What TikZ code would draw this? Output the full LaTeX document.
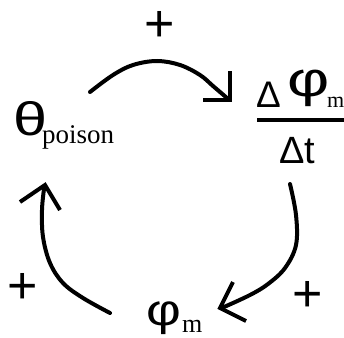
\documentclass[tikz,border=0pt]{standalone}
\usepackage{graphicx}
\usepackage{fontspec}
\setmainfont{Liberation Sans}
\newfontfamily\subfont{Liberation Serif}
\begin{document}
\begin{tikzpicture}[x=1pt,y=-1pt,
  lbl/.style={inner sep=0pt,outer sep=0pt,anchor=base west},
  sgn/.style={inner sep=0pt,outer sep=0pt,anchor=center,font=\fontsize{52}{52}\selectfont},
  arc/.style={line width=4pt,line cap=round,line join=miter},
  head/.style={line width=4pt,line cap=butt,line join=miter}]
\useasboundingbox (0,0) rectangle (344,337);
% texts
\node[lbl,font=\fontsize{47}{47}\selectfont] (theta) at (13,135) {\scalebox{1.3}[1]{θ}};
\node[lbl,font=\subfont\fontsize{27}{27}\selectfont] (poison) at (42,143) {poison};
\node[lbl,font=\fontsize{37}{37}\selectfont] (numD) at (256,107) {\scalebox{1}[1]{Δ}};
\node[lbl,font=\fontsize{49}{49}\selectfont] (numphi) at (287,96) {\scalebox{1.33}[1]{φ}};
\node[lbl,font=\subfont\fontsize{22}{22}\selectfont] (numm) at (327,107) {m};
\coordinate (barL) at (257,120);
\coordinate (barR) at (350,120);
\draw[line width=4pt] (barL) -- (barR);
\node[lbl,font=\fontsize{38}{38}\selectfont] (den) at (279,163) {Δt};
\node[lbl,font=\fontsize{44}{44}\selectfont] (phi) at (146,325) {\scalebox{1.22}[1]{φ}};
\node[lbl,font=\subfont\fontsize{26}{26}\selectfont] (phim) at (182,332) {m};
\node[sgn] (p1) at (160,26) {+};
\node[sgn] (p2) at (23,288) {+};
\node[sgn] (p3) at (308,296) {+};
% top arrow
\coordinate (t1) at (90,92);
\coordinate (t2) at (113,75);
\coordinate (t3) at (133,65);
\coordinate (t4) at (157,61);
\coordinate (t5) at (180,65);
\coordinate (t6) at (200,75);
\coordinate (t7) at (213,86);
\coordinate (t8) at (227,98);
\draw[arc] plot[smooth,tension=0.6] coordinates {(t1) (t2) (t3) (t4) (t5) (t6) (t7) (t8)};
\coordinate (ta) at (203,100);
\coordinate (tt) at (230,100);
\coordinate (tb) at (230,71);
\draw[head] (ta) -- (tt) -- (tb);
% right arrow
\coordinate (r1) at (290,184);
\coordinate (r2) at (296,215);
\coordinate (r3) at (296,245);
\coordinate (r4) at (285,268);
\coordinate (r5) at (268,284);
\coordinate (r6) at (250,295);
\coordinate (r7) at (224,307);
\draw[arc] plot[smooth,tension=0.6] coordinates {(r1) (r2) (r3) (r4) (r5) (r6) (r7)};
\coordinate (ra) at (233,282);
\coordinate (rt) at (220,308);
\coordinate (rb) at (246,321);
\draw[head] (ra) -- (rt) -- (rb);
% left arrow
\coordinate (l1) at (110,313);
\coordinate (l2) at (83,298);
\coordinate (l3) at (63,283);
\coordinate (l4) at (50,263);
\coordinate (l5) at (43,237);
\coordinate (l6) at (42,210);
\coordinate (l7) at (44,189);
\draw[arc] plot[smooth,tension=0.6] coordinates {(l1) (l2) (l3) (l4) (l5) (l6) (l7)};
\coordinate (la) at (20,202);
\coordinate (lt) at (45,185);
\coordinate (lb) at (60,210);
\draw[head] (la) -- (lt) -- (lb);
\end{tikzpicture}
\end{document}
